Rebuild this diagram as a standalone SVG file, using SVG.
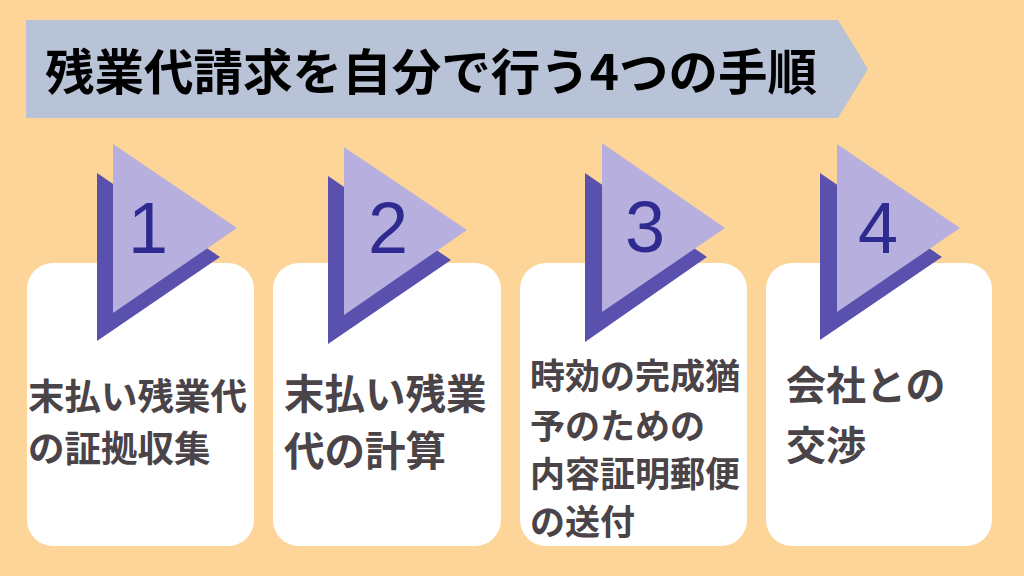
<svg xmlns="http://www.w3.org/2000/svg" width="1024" height="576" viewBox="0 0 1024 576">
<style>
.card{fill:#ffffff}
.lt{fill:#b7b0de}
.dk{fill:#5a50ae}
.num{font-family:"Liberation Sans",Arial,sans-serif;font-size:72px;fill:#2e2a8f;text-anchor:middle}
.lbl{font-family:"Noto Sans CJK JP","Noto Sans",sans-serif;font-weight:700;fill:#4a4347}
.title{font-family:"Noto Sans CJK JP","Noto Sans",sans-serif;font-weight:700;font-size:49px;fill:#000}
</style>
<rect width="1024" height="576" fill="#fdd598"/>
<g id="banner">
<polygon points="26,20 838,20 868,69 838,118 26,118" fill="#b8c3d7"/>
<text class="title" x="45" y="90" textLength="772" lengthAdjust="spacingAndGlyphs">残業代請求を自分で行う4つの手順</text>
</g>
<g id="step1">
<rect class="card" x="27" y="263" width="227" height="283" rx="26"/>
<polygon class="dk" points="97,173 97,341 220,257"/>
<polygon class="lt" points="113,144 113,313 237,228"/>
<text class="num" x="148" y="253">1</text>
<text class="lbl" font-size="36.5" x="28" y="410">末払い残業代</text>
<text class="lbl" font-size="36.5" x="28" y="462">の証拠収集</text>
</g>
<g id="step2">
<rect class="card" x="273" y="263" width="228" height="283" rx="26"/>
<polygon class="dk" points="328,176 328,344 451,260"/>
<polygon class="lt" points="344,147 344,315 467,230"/>
<text class="num" x="388" y="253">2</text>
<text class="lbl" font-size="40.5" x="284" y="409">末払い残業</text>
<text class="lbl" font-size="40.5" x="284" y="466">代の計算</text>
</g>
<g id="step3">
<rect class="card" x="520" y="263" width="227" height="283" rx="26"/>
<polygon class="dk" points="585,173 585,342 707,257"/>
<polygon class="lt" points="602,143 602,312 725,228"/>
<text class="num" x="645" y="252">3</text>
<text class="lbl" font-size="35" x="530" y="389">時効の完成猶</text>
<text class="lbl" font-size="35" x="530" y="439">予のための</text>
<text class="lbl" font-size="35" x="530" y="487">内容証明郵便</text>
<text class="lbl" font-size="35" x="530" y="535">の送付</text>
</g>
<g id="step4">
<rect class="card" x="766" y="263" width="226" height="283" rx="26"/>
<polygon class="dk" points="820,173 820,340 942,257"/>
<polygon class="lt" points="837,144 837,312 960,228"/>
<text class="num" x="878" y="253">4</text>
<text class="lbl" font-size="40" x="786" y="400">会社との</text>
<text class="lbl" font-size="40" x="786" y="460">交渉</text>
</g>
<g id="connectors"/>
</svg>
